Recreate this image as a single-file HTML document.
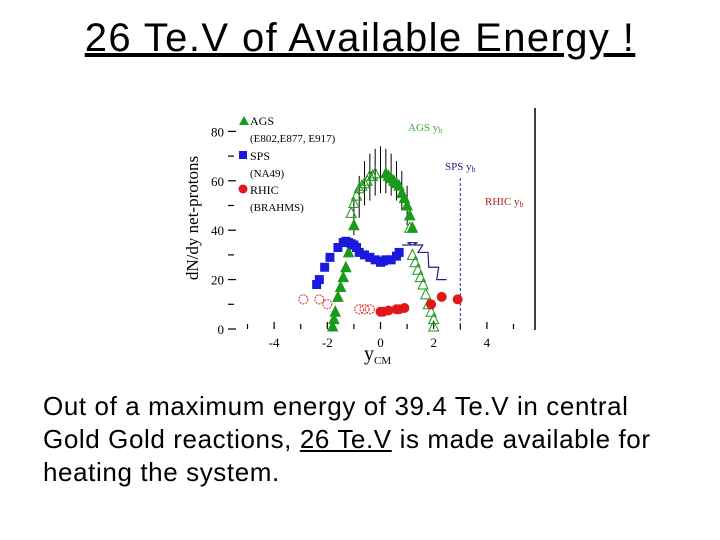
<!DOCTYPE html>
<html><head><meta charset="utf-8"><style>
body{margin:0;width:720px;height:540px;background:#fff;overflow:hidden;font-family:"Liberation Sans",sans-serif}
#title{position:absolute;left:0;width:720px;top:16px;text-align:center;font-size:40px;letter-spacing:1.4px;color:#000}
#title span{text-decoration:underline}
#body{position:absolute;left:43px;top:390px;font-size:26px;letter-spacing:0.6px;line-height:33px;color:#000;width:640px}
svg{position:absolute;left:0;top:0}
</style></head><body>
<div id="title"><span>26 Te.V of Available Energy !</span></div>
<svg id="chart" width="720" height="540" font-family="Liberation Serif, serif"></svg>
<div id="body">Out of a maximum energy of 39.4 Te.V in central<br>Gold Gold reactions, <u>26 Te.V</u> is made available for<br>heating the system.</div>
<script>
const xTicks=[-4,-2,0,2,4];
const yTicks=[0,20,40,60,80];
const agsFilledX=[-1.8,-1.75,-1.7,-1.6,-1.5,-1.4,-1.3,-1.2,-1.0,0.2,0.3,0.4,0.5,0.6,0.7,0.8,0.9,1.0,1.1,1.2];
const agsFilledY=[1,4,7,13,17,21,25,31,42,63,62,61,60,59,58,55,53,50,46,41];
const agsOpenX=[-1.1,-1,-0.9,-0.8,-0.7,-0.6,-0.5,-0.4,-0.3,-0.2,1.1,1.2,1.3,1.4,1.5,1.6,1.7,1.8,1.9,2.0,2.0];
const agsOpenY=[47,51,54,57,58,59,60,62,62,63,41,30,27,24,21,18,14,10,7,4,1];
const spsFilledX=[-2.4,-2.3,-2.1,-1.9,-1.6,-1.4,-1.3,-1.2,-1.1,-1,-0.9,-0.8,-0.6,-0.4,-0.2,0,0.1,0.2,0.4,0.6,0.7];
const spsFilledY=[18,20,25,29,33,35,35.5,35,34.5,34,33,31,30,29,28,27,27.5,28,28,29.5,31];
const spsOpenX=[1.0,1.2,1.4,1.6,2.0,2.3];
const spsOpenY=[34,35,34,31,25,20];
const rhicFilledX=[0,0.1,0.3,0.6,0.7,0.9,1.9,2.3,2.9];
const rhicFilledY=[7,7,7.5,8,8,8.5,10,13,12];
const rhicOpenX=[-2.9,-2.3,-2.0,-0.8,-0.6,-0.4];
const rhicOpenY=[12,12,10,8,8,8];
const errX=[-1.0,-0.8,-0.6,-0.4,-0.2,0,0.2,0.4,0.6,0.8,1.0];
const errLo=[38,45,50,52,54,55,55,54,52,48,42];
const errHi=[52,62,68,71,73,74,73,71,68,64,58];

const svg=document.getElementById('chart');
const NS='http://www.w3.org/2000/svg';
const X=v=>380.5+v*26.6, Y=v=>329-v*2.47;
function mk(t,a,p){const e=document.createElementNS(NS,t);for(const k in a)e.setAttribute(k,a[k]);(p||svg).appendChild(e);return e;}
for(let i=-5;i<=5;i++){const t=mk('line',{x1:X(i),x2:X(i),y1:i%2==0?322:324,y2:329,stroke:'#000','stroke-width':1.2});

}
for(let v=0;v<=85;v+=10){const t=mk('line',{x1:228,x2:v%20==0?236:234,y1:Y(v),y2:Y(v),stroke:'#000','stroke-width':1.2});

}
xTicks.forEach(v=>{const t=mk('text',{x:X(v),y:347,'text-anchor':'middle','font-size':13});t.textContent=v;

});
yTicks.forEach(v=>{const t=mk('text',{x:224,y:Y(v)+5,'text-anchor':'end','font-size':13});t.textContent=v;

});
let yt=mk('text',{x:198,y:218,'text-anchor':'middle','font-size':17,transform:'rotate(-90 198 218)'});yt.textContent='dN/dy net-protons';


let xt=mk('text',{x:364,y:360,'font-size':20});xt.innerHTML='y<tspan font-size="11" dy="4">CM</tspan>';


let rl=mk('line',{x1:535,x2:535,y1:108,y2:330,stroke:'#000','stroke-width':1.5});


let sl=mk('line',{x1:X(3),x2:X(3),y1:178,y2:330,stroke:'#22228a','stroke-width':1,'stroke-dasharray':'3,2'});


[['AGS y',408,131,'#3a3','ags-yb-label'],['SPS y',445,170,'#22228a','sps-yb-label'],['RHIC y',485,205,'#a22','rhic-yb-label']].forEach(a=>{
const t=mk('text',{x:a[1],y:a[2],'font-size':11,fill:a[3]});t.innerHTML=a[0]+'<tspan font-size="8" dy="2">b</tspan>';

});
errX.forEach((x,i)=>{const e=mk('line',{x1:X(x),x2:X(x),y1:Y(errLo[i]),y2:Y(errHi[i]),stroke:'#000','stroke-width':1});

});
let d='';spsOpenX.forEach((x,i)=>{d+=(i?'L':'M')+(X(x)-5)+','+Y(spsOpenY[i])+'L'+(X(x)+5)+','+Y(spsOpenY[i]);});
let sp=mk('path',{d:d,fill:'none',stroke:'#22228a','stroke-width':1.2});


function tri(x,y,fill,name){const cx=X(x),cy=Y(y);const p=mk('polygon',{points:`${cx},${cy-5.5} ${cx-5},${cy+4.5} ${cx+5},${cy+4.5}`,fill:fill?'#1a9a1a':'none',stroke:'#1a9a1a','stroke-width':1});

}
agsOpenX.forEach((x,i)=>tri(x,agsOpenY[i],false,'ags-open-point'));
agsFilledX.forEach((x,i)=>tri(x,agsFilledY[i],true,'ags-point'));
spsFilledX.forEach((x,i)=>{const r=mk('rect',{x:X(x)-4.5,y:Y(spsFilledY[i])-4.5,width:9,height:9,fill:'#1a1adc'});

});
rhicOpenX.forEach((x,i)=>{const c=mk('circle',{cx:X(x),cy:Y(rhicOpenY[i]),r:4.5,fill:'none',stroke:'#d22','stroke-width':1,'stroke-dasharray':'2,1'});

});
rhicFilledX.forEach((x,i)=>{const c=mk('circle',{cx:X(x),cy:Y(rhicFilledY[i]),r:5,fill:'#e01818'});

});
const lg=mk('g',{});


mk('polygon',{points:'244,116 239,125 249,125',fill:'#1a9a1a'},lg);
mk('rect',{x:239,y:151,width:8,height:8,fill:'#1a1adc'},lg);
mk('circle',{cx:243,cy:189,r:4.5,fill:'#e01818'},lg);
[['AGS',125,12],['(E802,E877, E917)',142,11],['SPS',160,12],['(NA49)',177,11],['RHIC',194,12],['(BRAHMS)',211,11]].forEach(a=>{
const t=mk('text',{x:250,y:a[1],'font-size':a[2]},lg);t.textContent=a[0];});
</script>
</body></html>
